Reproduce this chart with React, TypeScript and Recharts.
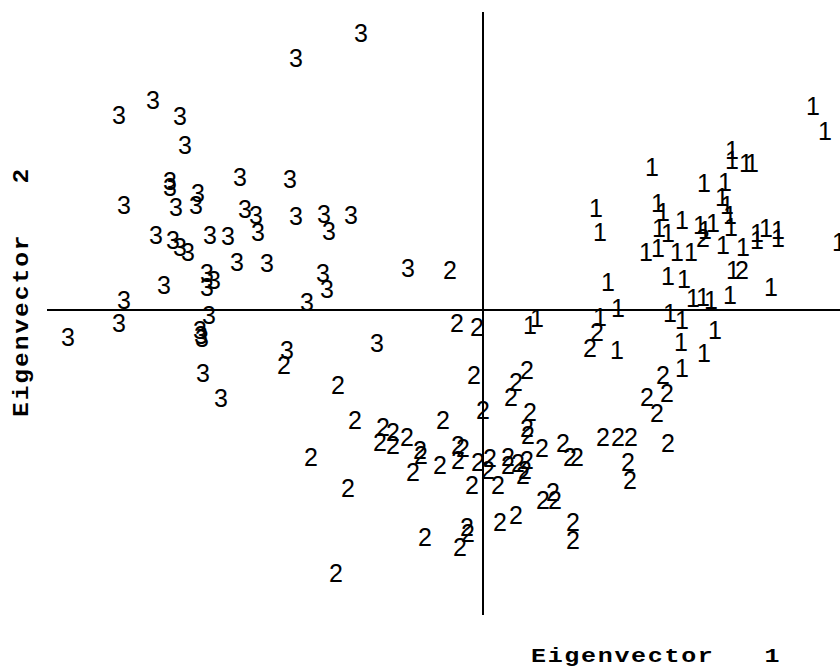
import { ScatterChart, Scatter, XAxis, YAxis, ReferenceLine } from "recharts";

// Scores on the first two eigenvectors, grouped by class
const class1X = [3.30, 3.42, 2.49, 2.49, 2.63, 2.69, 1.69, 2.21, 2.42, 2.39, 2.44, 2.47, 1.13, 1.17, 1.75, 1.80, 1.99, 1.76, 1.85, 2.30, 2.17, 2.22, 2.48, 1.63, 1.75, 1.94, 2.08, 2.40, 2.60, 2.74, 2.74, 2.83, 2.95, 2.95, 3.56, 1.25, 1.85, 2.01, 2.50, 2.88, 2.10, 2.20, 2.28, 2.47, 1.35, 1.87, 1.17, 1.99, 0.47, 0.54, 2.32, 1.98, 2.21, 1.99, 1.34];
const class1Y = [2.04, 1.79, 1.60, 1.50, 1.47, 1.47, 1.43, 1.27, 1.28, 1.13, 1.05, 0.95, 1.02, 0.78, 1.07, 0.98, 0.90, 0.82, 0.77, 0.87, 0.85, 0.80, 0.83, 0.58, 0.62, 0.58, 0.58, 0.65, 0.63, 0.77, 0.70, 0.82, 0.80, 0.72, 0.68, 0.28, 0.34, 0.31, 0.40, 0.23, 0.12, 0.13, 0.10, 0.15, 0.02, -0.03, -0.07, -0.10, -0.15, -0.08, -0.20, -0.32, -0.43, -0.58, -0.40];

const class2X = [-0.33, 2.20, 2.59, -0.26, -0.06, 1.14, 1.07, -1.99, -1.45, -0.09, 0.44, 0.33, 0.28, 1.80, 1.84, 1.64, 1.74, 0.00, 0.47, 0.44, 0.45, -0.40, -1.28, -1.00, -0.90, -0.76, -1.03, -0.90, -0.63, -0.62, -0.70, -0.43, -0.25, -0.20, -0.25, -0.05, 0.07, 0.05, -0.11, 0.15, 0.25, 0.25, 0.35, 0.44, 0.42, 0.40, 0.59, 0.80, 0.87, 0.94, 1.20, 1.35, 1.48, 1.85, 1.45, 1.47, 0.60, 0.70, 0.72, 0.17, 0.33, -0.58, -0.16, -0.15, -0.23, 0.90, 0.90, -1.72, -1.35, -1.47];
const class2Y = [0.40, 0.72, 0.40, -0.13, -0.17, -0.22, -0.38, -0.55, -0.75, -0.65, -0.60, -0.72, -0.87, -0.65, -0.83, -0.87, -1.03, -1.00, -1.02, -1.18, -1.25, -1.10, -1.10, -1.17, -1.22, -1.27, -1.32, -1.35, -1.40, -1.45, -1.62, -1.55, -1.35, -1.38, -1.50, -1.52, -1.48, -1.60, -1.75, -1.75, -1.47, -1.55, -1.53, -1.50, -1.60, -1.65, -1.38, -1.33, -1.47, -1.47, -1.27, -1.27, -1.27, -1.33, -1.52, -1.70, -1.90, -1.82, -1.90, -2.12, -2.05, -2.27, -2.17, -2.23, -2.37, -2.12, -2.30, -1.47, -1.78, -2.63];

const class3X = [-1.22, -1.87, -3.30, -3.64, -3.03, -2.98, -3.13, -3.13, -2.43, -1.93, -3.59, -3.07, -2.85, -2.87, -2.38, -2.27, -2.25, -1.87, -1.59, -1.54, -1.32, -3.27, -3.10, -3.03, -2.95, -2.73, -2.55, -2.46, -2.16, -3.19, -2.76, -2.76, -2.69, -1.60, -1.56, -1.76, -0.75, -3.59, -3.64, -4.15, -2.74, -2.83, -2.82, -2.81, -1.96, -1.06, -2.80, -2.62];
const class3Y = [2.77, 2.52, 2.10, 1.95, 1.94, 1.65, 1.29, 1.23, 1.33, 1.31, 1.05, 1.03, 1.17, 1.05, 1.01, 0.95, 0.78, 0.94, 0.96, 0.79, 0.95, 0.75, 0.70, 0.63, 0.58, 0.75, 0.74, 0.48, 0.47, 0.25, 0.37, 0.23, 0.30, 0.37, 0.21, 0.08, 0.42, 0.10, -0.13, -0.27, -0.05, -0.20, -0.25, -0.28, -0.40, -0.33, -0.63, -0.88];

const xDomain = [-4.36, 3.57];
const yDomain = [-3.05, 2.98];

const toPoints = (xs: number[], ys: number[]) => xs.map((x, i) => ({ x, y: ys[i] }));

// each observation is drawn as its class number instead of a symbol
const digit = (label: string) => (props: any) => (
  <text
    x={props.cx}
    y={props.cy}
    dy="0.36em"
    textAnchor="middle"
    fontFamily="'Liberation Sans', Arial, sans-serif"
    fontSize={25}
    fill="#000"
  >
    {label}
  </text>
);

const monoStyle = {
  fontFamily: "'Liberation Mono', 'Courier New', monospace",
  fontWeight: "bold" as const,
  whiteSpace: "pre" as const,
};

const BottomTitle = () => (
  <text transform="translate(531,662) scale(1.25,1)" fontSize={20} letterSpacing={1.35} fill="#000" xmlSpace="preserve" style={monoStyle}>
    {"Eigenvector   1"}
  </text>
);

const LeftTitle = () => (
  <text transform="translate(28,417) rotate(-90) scale(1.12,1)" fontSize={22} letterSpacing={1.7} fill="#000" xmlSpace="preserve" style={monoStyle}>
    {"Eigenvector   2"}
  </text>
);

export default function App() {
  return (
    <div style={{ position: "absolute", left: 0, top: 0, width: 840, height: 671, background: "#fff" }}>
      <ScatterChart width={840} height={671} margin={{ top: 12, right: 0, bottom: 0, left: 0 }}>
        <XAxis
          type="number"
          dataKey="x"
          domain={xDomain}
          height={56}
          tick={false}
          tickLine={false}
          axisLine={false}
          label={{ content: BottomTitle }}
        />
        <YAxis
          type="number"
          dataKey="y"
          domain={yDomain}
          width={47}
          tick={false}
          tickLine={false}
          axisLine={false}
          label={{ content: LeftTitle }}
        />
        <ReferenceLine x={0} stroke="#000" strokeWidth={2} />
        <ReferenceLine y={0} stroke="#000" strokeWidth={2} />
        <Scatter data={toPoints(class3X, class3Y)} shape={digit("3")} isAnimationActive={false} />
        <Scatter data={toPoints(class2X, class2Y)} shape={digit("2")} isAnimationActive={false} />
        <Scatter data={toPoints(class1X, class1Y)} shape={digit("1")} isAnimationActive={false} />
      </ScatterChart>
    </div>
  );
}
